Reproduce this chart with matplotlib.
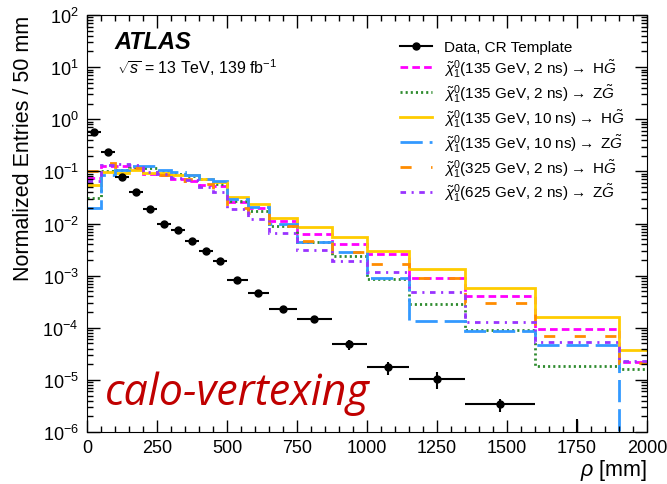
import numpy as np
import matplotlib
matplotlib.use("Agg")
import matplotlib.pyplot as plt
from matplotlib.ticker import MultipleLocator, LogLocator, NullFormatter

plt.rcParams['font.family'] = ['Liberation Sans', 'DejaVu Sans']
plt.rcParams['mathtext.fontset'] = 'custom'
plt.rcParams['mathtext.rm'] = 'Liberation Sans'
plt.rcParams['mathtext.it'] = 'Liberation Sans:italic'
plt.rcParams['mathtext.bf'] = 'Liberation Sans:bold'
plt.rcParams['lines.scale_dashes'] = False

# bin edges in mm
edges = [0, 50, 100, 150, 200, 250, 300, 350, 400, 450, 500,
         575, 650, 750, 875, 1000, 1150, 1350, 1600, 1900, 2000]

# data (CR template), last bin empty
data_vals = [0.575, 0.238, 0.0787, 0.0395, 0.0189, 0.00986, 0.00757, 0.00459,
             0.00299, 0.00187, 8.3e-4, 4.55e-4, 2.34e-4, 1.46e-4, 4.84e-5,
             1.73e-5, 1.03e-5, 3.42e-6, 6e-7, np.nan]
data_relerr = [0.01, 0.01, 0.01, 0.01, 0.015, 0.015, 0.02, 0.02, 0.02, 0.025,
               0.03, 0.05, 0.08, 0.17, 0.22, 0.28, 0.35, 0.28, 2.0, 0.0]

# signal templates
h135_2ns_H = [0.075, 0.128, 0.125, 0.12, 0.09, 0.085, 0.073, 0.066, 0.055, 0.053,
              0.026, 0.020, 0.0114, 0.0063, 0.0040, 0.0026, 9.2e-4, 4.1e-4, 9.4e-5, 2.25e-5]
h135_2ns_Z = [0.031, 0.103, 0.107, 0.114, 0.115, 0.103, 0.09, 0.082, 0.07, 0.057,
              0.027, 0.017, 0.0088, 0.0044, 0.0024, 8.6e-4, 2.84e-4, 9.0e-5, 1.86e-5, 1.6e-5]
h135_10ns_H = [0.055, 0.096, 0.093, 0.107, 0.093, 0.093, 0.085, 0.085, 0.07, 0.0615,
               0.032, 0.024, 0.013, 0.0087, 0.0056, 0.0030, 1.33e-3, 5.9e-4, 1.63e-4, 3.7e-5]
h135_10ns_Z = [0.020, 0.085, 0.107, 0.125, 0.125, 0.107, 0.096, 0.085, 0.073, 0.065,
               0.030, 0.021, 0.0097, 0.0044, 0.0028, 9.2e-4, 1.34e-4, 8.8e-5, 4.6e-5, 0.0]
h325_2ns_H = [0.103, 0.145, 0.12, 0.114, 0.10, 0.085, 0.066, 0.07, 0.058, 0.042,
              0.020, 0.016, 0.0088, 0.0047, 0.0029, 1.66e-3, 8.9e-4, 2.97e-4, 7.0e-5, 2.1e-5]
h625_2ns_Z = [0.066, 0.135, 0.138, 0.13, 0.098, 0.088, 0.075, 0.068, 0.05, 0.041,
              0.019, 0.012, 0.0066, 0.0031, 0.0019, 1.2e-3, 4.8e-4, 1.3e-4, 5.4e-5, 2.3e-5]

labels = [
    r'$\tilde{\chi}^0_1$(135 GeV, 2 ns)$\rightarrow$ H$\tilde{G}$',
    r'$\tilde{\chi}^0_1$(135 GeV, 2 ns)$\rightarrow$ Z$\tilde{G}$',
    r'$\tilde{\chi}^0_1$(135 GeV, 10 ns)$\rightarrow$ H$\tilde{G}$',
    r'$\tilde{\chi}^0_1$(135 GeV, 10 ns)$\rightarrow$ Z$\tilde{G}$',
    r'$\tilde{\chi}^0_1$(325 GeV, 2 ns)$\rightarrow$ H$\tilde{G}$',
    r'$\tilde{\chi}^0_1$(625 GeV, 2 ns)$\rightarrow$ Z$\tilde{G}$',
]
series = [h135_2ns_H, h135_2ns_Z, h135_10ns_H, h135_10ns_Z, h325_2ns_H, h625_2ns_Z]
colors = ['#ff00ff', '#2e8b2e', '#ffcc00', '#3399ff', '#ff8c00', '#9933ff']
styles = [(0, (5.5, 3)), (0, (1.5, 2.2)), '-', (0, (16, 5)), (0, (8, 14)), (0, (4, 4, 1.5, 4))]

fig = plt.figure(figsize=(6.67, 4.85), dpi=100)
ax = fig.add_axes([0.1304, 0.1072, 0.8396, 0.8598])

edges_a = np.array(edges, dtype=float)
centers = 0.5 * (edges_a[1:] + edges_a[:-1])
halfw = 0.5 * (edges_a[1:] - edges_a[:-1])
dv = np.array(data_vals)
derr = dv * np.array(data_relerr)

handles = []
h, = ax.plot([], [], color='black', marker='o', ms=5, lw=1.5, label='Data, CR Template')
handles.append(h)
for vals, c, ls, lab in zip(series, colors, styles, labels):
    ax.stairs(vals, edges, baseline=None, color=c, linestyle=ls, lw=2)
    h, = ax.plot([], [], color=c, linestyle=ls, lw=2, label=lab)
    handles.append(h)

ax.errorbar(centers, dv, xerr=halfw, yerr=derr, fmt='o', color='black',
            ms=5, elinewidth=1.5, capsize=0, zorder=5)

ax.set_yscale('log')
ax.set_xlim(0, 2000)
ax.set_ylim(1e-6, 1e2)

ax.xaxis.set_major_locator(MultipleLocator(250))
ax.xaxis.set_minor_locator(MultipleLocator(50))
ax.yaxis.set_major_locator(LogLocator(base=10, numticks=20))
ax.yaxis.set_minor_locator(LogLocator(base=10, subs=np.arange(2, 10), numticks=20))
ax.yaxis.set_minor_formatter(NullFormatter())
ax.tick_params(which='both', direction='in', top=True, right=True, labelsize=13)
ax.tick_params(which='major', length=9, width=1)
ax.tick_params(which='minor', length=4.5, width=1)
ax.tick_params(axis='x', pad=5)
ax.tick_params(axis='y', pad=6)

ax.set_xlabel(r'$\rho$ [mm]', fontsize=15.5, loc='right', labelpad=1)
ax.set_ylabel('Normalized Entries / 50 mm', fontsize=15.5, loc='top', labelpad=6)

ax.text(0.05, 0.92, 'ATLAS', transform=ax.transAxes, fontsize=17,
        fontweight='bold', style='italic', va='baseline')
ax.text(0.054, 0.862, r'$\sqrt{s}$ = 13 TeV, 139 fb$^{-1}$', transform=ax.transAxes,
        fontsize=11.5, va='baseline')
ax.text(0.032, 0.067, 'calo-vertexing', transform=ax.transAxes, fontsize=31,
        style='italic', color='#c00000', family='Open Sans', va='baseline')

ax.legend(handles=handles, loc='upper left', bbox_to_anchor=(0.548, 0.955),
          frameon=False, fontsize=11, handlelength=2.1, handletextpad=0.8,
          labelspacing=0.2, borderaxespad=0)

fig.savefig('out.png', dpi=100)
